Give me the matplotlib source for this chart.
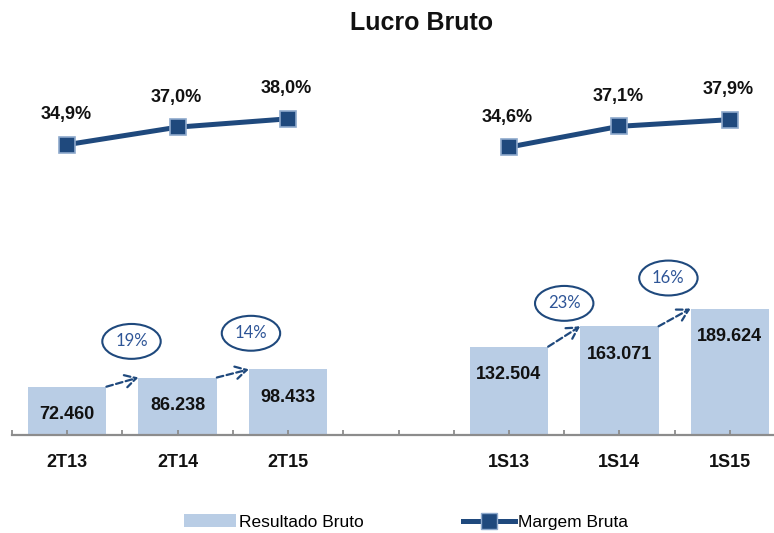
import numpy as np
import matplotlib
matplotlib.use("Agg")
import matplotlib.pyplot as plt
from matplotlib.patches import Patch
from matplotlib.lines import Line2D

plt.rcParams['font.family'] = ['Liberation Sans', 'DejaVu Sans']

# ---- data ----
categories = ['2T13', '2T14', '2T15', '', '1S13', '1S14', '1S15']
resultado_bruto = [72460, 86238, 98433, np.nan, 132504, 163071, 189624]
bar_labels = ['72.460', '86.238', '98.433', '', '132.504', '163.071', '189.624']
margem_bruta = [34.9, 37.0, 38.0, np.nan, 34.6, 37.1, 37.9]
margem_labels = ['34,9%', '37,0%', '38,0%', '', '34,6%', '37,1%', '37,9%']
growth_pairs = [(0, 1), (1, 2), (4, 5), (5, 6)]
growth_labels = ['19%', '14%', '23%', '16%']

BAR_COLOR = '#B9CDE5'
LINE_COLOR = '#1F497D'
EDGE_COLOR = '#8EA9CC'
AXIS_COLOR = '#8C8C8C'
ANN_COLOR = '#2E5597'

fig = plt.figure(figsize=(7.74, 5.33), dpi=100)
ax = fig.add_axes([12 / 774, 98 / 533, 762 / 774, 375 / 533])
ax2 = ax.twinx()

x = np.arange(len(categories))
w = 0.71

ax.bar(x, resultado_bruto, width=w, color=BAR_COLOR, zorder=1)

for xi, v, lab in zip(x, resultado_bruto, bar_labels):
    if lab:
        ax.annotate(lab, (xi, v), xytext=(0, -20), textcoords='offset points',
                    ha='center', va='center', fontsize=13, fontweight='bold',
                    color='#111111')

ax2.plot(x, margem_bruta, color=LINE_COLOR, lw=3.6, marker='s', markersize=11.5,
         markerfacecolor=LINE_COLOR, markeredgecolor=EDGE_COLOR,
         markeredgewidth=1.2, zorder=3)
for xi, v, lab in zip(x, margem_bruta, margem_labels):
    if lab:
        ax2.annotate(lab, (xi, v), xytext=(-1, 21.5), textcoords='offset points',
                     ha='center', va='center', fontsize=13, fontweight='bold',
                     color='#111111')

# growth arrows and ellipses
ell_offsets = [(-5, 26), (1.5, 26), (-11.5, 16.5), (-16, 22)]
for (i, j), lab, off in zip(growth_pairs, growth_labels, ell_offsets):
    start = (x[i] + w / 2, resultado_bruto[i])
    end = (x[j] - w / 2, resultado_bruto[j])
    ax.annotate('', xy=end, xytext=start,
                arrowprops=dict(arrowstyle='->,head_length=0.8,head_width=0.45',
                                color=LINE_COLOR, lw=1.6, linestyle=(0, (3, 1.5)),
                                shrinkA=0, shrinkB=0), zorder=4)
    ax.annotate(lab, end, xytext=off, textcoords='offset points',
                ha='center', va='center', fontsize=12, color=ANN_COLOR,
                family=['Lato', 'DejaVu Sans'],
                bbox=dict(boxstyle='ellipse,pad=0.26', fc='white',
                          ec=LINE_COLOR, lw=1.5), zorder=5)

# axes styling
for a in (ax, ax2):
    for s in ('top', 'left', 'right', 'bottom'):
        a.spines[s].set_visible(False)
ax.spines['bottom'].set_visible(True)
ax.spines['bottom'].set_color(AXIS_COLOR)
ax.spines['bottom'].set_linewidth(1.6)
ax.set_yticks([])
ax2.set_yticks([])
ax.set_xticks(x)
ax.set_xticklabels(categories, fontsize=13, fontweight='bold', color='#111111')
ax.set_xticks(np.arange(-0.5, 7, 1.0), minor=True)
ax.tick_params(axis='x', which='both', direction='in', length=3.5, width=1.3,
               color=AXIS_COLOR, pad=14)

# limits set last so nothing re-autoscales them
ax.set_ylim(0, 562500)
ax2.set_ylim(0, 45.07)
ax.set_xlim(-0.5, 6.4)
ax2.set_xlim(-0.5, 6.4)

fig.text(422 / 774, 1 - 23 / 533, 'Lucro Bruto', ha='center', va='center',
         fontsize=18, fontweight='bold', color='#111111')

handles = [Patch(facecolor=BAR_COLOR, edgecolor='none', label='Resultado Bruto'),
           Line2D([], [], color=LINE_COLOR, lw=3.6, marker='s', markersize=11,
                  markerfacecolor=LINE_COLOR, markeredgecolor=EDGE_COLOR,
                  label='Margem Bruta')]
fig.legend(handles=handles, loc='center', bbox_to_anchor=(406 / 774, 1 - 522 / 533),
           ncol=2, frameon=False, fontsize=12.5, handlelength=3.0,
           handletextpad=0.2, columnspacing=5.7, numpoints=1)

fig.savefig('out.png', dpi=100)
